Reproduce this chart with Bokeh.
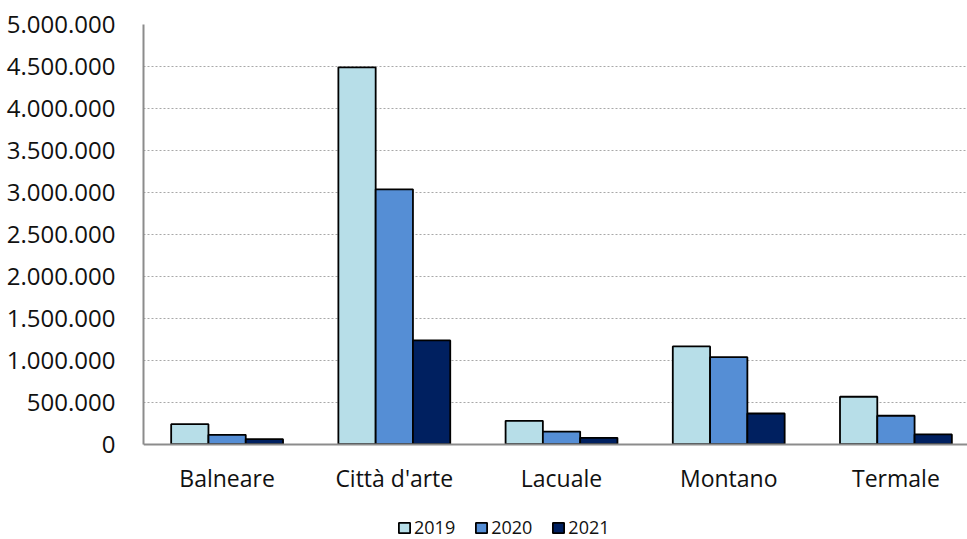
import numpy as np
from bokeh.plotting import figure
from bokeh.models import (ColumnDataSource, Range1d, FixedTicker, CustomJSTickFormatter,
                          Legend, LegendItem)
from bokeh.embed import file_html
from bokeh.resources import INLINE

categories = ["Balneare", "Città d'arte", "Lacuale", "Montano", "Termale"]
years = ["2019", "2020", "2021"]
v2019 = [238000, 4490000, 279000, 1165000, 565000]
v2020 = [112000, 3036000, 151000, 1037000, 339000]
v2021 = [60000, 1236000, 76000, 366000, 116000]
colors = ["#B7DEE8", "#558ED5", "#002060"]
y_ticks = [0, 500000, 1000000, 1500000, 2000000, 2500000, 3000000, 3500000, 4000000, 4500000, 5000000]

FONT = "Open Sans"
centers = np.arange(len(categories)) + 0.5
bar_w = 0.223

# frame: top at 24px, value 0 at 443.7px, frame reaches the page bottom (539px)
Y_MAX = 5000000
y_min = -(539 - 443.7) / (443.7 - 24) * Y_MAX

p = figure(width=967, height=539, output_backend="svg", toolbar_location=None,
           x_range=Range1d(0, 4.928), y_range=Range1d(y_min, Y_MAX),
           min_border_left=143, min_border_right=0, min_border_top=24, min_border_bottom=0)
p.outline_line_color = None
p.background_fill_color = "white"
p.border_fill_color = "white"

renderers = []
for i, (yr, vals, col) in enumerate(zip(years, [v2019, v2020, v2021], colors)):
    src = ColumnDataSource(dict(x=centers + (i - 1) * bar_w, top=vals))
    r = p.vbar(x="x", top="top", bottom=0, width=bar_w, source=src,
               fill_color=col, line_color="black", line_width=1.8)
    renderers.append(r)

# y axis
p.yaxis.ticker = FixedTicker(ticks=y_ticks)
p.yaxis.bounds = (0, Y_MAX)
p.yaxis.formatter = CustomJSTickFormatter(code="""
    return Math.round(tick).toString().replace(/\\B(?=(\\d{3})+(?!\\d))/g, '.');
""")
p.yaxis.major_label_text_font = FONT
p.yaxis.major_label_text_font_size = "24px"
p.yaxis.major_label_text_color = "#111111"
p.yaxis.major_label_standoff = 22
p.yaxis.major_tick_line_color = None
p.yaxis.minor_tick_line_color = None
p.yaxis.axis_line_color = "#8C8C8C"
p.yaxis.axis_line_width = 2

# x axis, placed on the zero line
p.xaxis.fixed_location = 0
p.xaxis.ticker = FixedTicker(ticks=list(centers))
p.xaxis.major_label_overrides = {float(c): cat for c, cat in zip(centers, categories)}
p.xaxis.major_label_text_font = FONT
p.xaxis.major_label_text_font_size = "23px"
p.xaxis.major_label_text_color = "#111111"
p.xaxis.major_label_standoff = 12
p.xaxis.major_tick_line_color = None
p.xaxis.minor_tick_line_color = None
p.xaxis.axis_line_color = "#8C8C8C"
p.xaxis.axis_line_width = 2

p.xgrid.grid_line_color = None
p.ygrid.grid_line_color = "#A8A8A8"
p.ygrid.grid_line_dash = "2 2"
p.ygrid.grid_line_width = 1.2

legend = Legend(items=[LegendItem(label=yr, renderers=[r]) for yr, r in zip(years, renderers)],
                orientation="horizontal", location=(254, 0),
                glyph_width=14, glyph_height=13, label_height=13, label_standoff=3, spacing=19,
                padding=0, margin=0, border_line_color=None, background_fill_alpha=0,
                label_text_font=FONT, label_text_font_size="18px", label_text_color="#111111")
p.add_layout(legend, "center")

open("out.html", "w").write(file_html(p, INLINE))
